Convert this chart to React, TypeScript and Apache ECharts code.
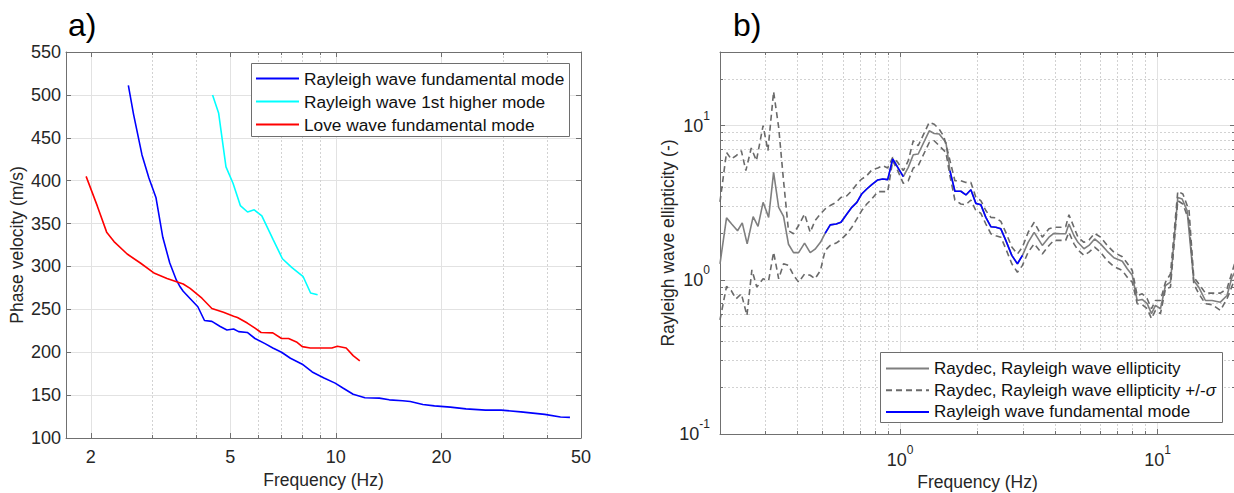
import React, { useEffect, useRef } from 'react';
import * as echarts from 'echarts';

// ---------------- Panel a) : dispersion curves ----------------
const rayleighFundamental: [number, number][] = [
  [2.56, 511], [2.65, 477], [2.8, 430], [2.93, 403], [3.07, 380], [3.21, 334], [3.36, 304],
  [3.51, 284], [3.6, 276], [3.67, 271], [3.85, 262], [4.04, 253], [4.22, 237], [4.43, 236],
  [4.68, 230], [4.89, 226], [5.11, 227], [5.28, 224], [5.59, 223], [5.88, 216], [6.28, 210],
  [6.61, 205], [7.0, 200], [7.42, 193], [8.02, 186], [8.56, 177], [9.25, 170], [9.95, 164],
  [10.5, 158], [11.2, 151], [12.1, 147], [13.3, 146.5], [14.2, 144.5], [15.5, 143.5],
  [16.3, 142.5], [17.7, 139], [19.1, 137.5], [21.2, 136], [23.5, 134], [26.7, 132.5],
  [29.6, 132.5], [33.7, 130.5], [39.4, 127.5], [43.7, 124.5], [46.5, 124],
];
const rayleighHigher: [number, number][] = [
  [4.45, 500], [4.63, 479], [4.86, 416], [5.09, 397], [5.34, 371], [5.6, 363.5], [5.85, 366],
  [6.15, 359], [6.63, 331], [7.04, 309], [7.48, 299], [8.07, 288], [8.47, 269], [8.87, 267],
];
const loveFundamental: [number, number][] = [
  [1.94, 405], [2.09, 370], [2.22, 340], [2.33, 329], [2.54, 314.5], [2.77, 304], [3.04, 292],
  [3.3, 286], [3.67, 279.5], [3.84, 274.5], [4.15, 263], [4.43, 251], [4.78, 246.5], [5.11, 242],
  [5.24, 240.5], [5.59, 234], [5.88, 228], [6.12, 223], [6.61, 222.5], [7.0, 216], [7.33, 216],
  [7.72, 212], [8.02, 206.5], [8.45, 205], [9.74, 205], [10.1, 207], [10.7, 205], [11.2, 196],
  [11.7, 190],
];
const aXMin = 1.7;
const aXMax = 50;
const aXMajorTicks = [2, 5, 10, 20, 50];
const aXMinorTicks = [3, 4, 6, 7, 8, 9, 30, 40];
const aYMin = 100;
const aYMax = 550;
const aYStep = 50;

// ---------------- Panel b) : ellipticity ----------------
const modeSegment1: [number, number][] = [
  [0.512, 2.0], [0.536, 2.27], [0.565, 2.3], [0.59, 2.36], [0.622, 2.67], [0.65, 2.95],
  [0.68, 3.18], [0.71, 3.6], [0.743, 3.88], [0.777, 4.14], [0.82, 4.44], [0.857, 4.5],
  [0.896, 4.46], [0.937, 6.07], [0.98, 5.36], [1.03, 4.66],
];
const modeSegment2: [number, number][] = [
  [1.563, 5.1], [1.634, 3.75], [1.723, 3.75], [1.803, 3.55], [1.885, 3.84], [1.971, 3.13],
  [2.06, 3.07], [2.155, 2.54], [2.253, 2.21], [2.356, 2.19], [2.464, 2.14], [2.576, 1.8],
  [2.718, 1.44], [2.858, 1.27], [2.99, 1.44],
];
const raydecLow: [number, number][] = [
  [0.2, 1.27], [0.212, 2.52], [0.222, 2.3], [0.234, 2.08], [0.244, 2.34], [0.255, 1.71],
  [0.269, 2.57], [0.281, 2.22], [0.294, 3.18], [0.309, 2.54], [0.323, 4.97], [0.338, 2.95],
  [0.353, 2.58], [0.369, 1.7], [0.386, 1.5], [0.404, 1.5], [0.426, 1.73], [0.448, 1.5],
  [0.468, 1.58], [0.491, 1.75],
];
const raydecMid: [number, number][] = [
  [1.077, 5.36], [1.126, 6.47], [1.177, 6.54], [1.299, 9.25], [1.358, 8.89], [1.42, 8.81],
  [1.508, 7.77],
];
const raydecHigh: [number, number][] = [
  [3.145, 1.75], [3.32, 2.03], [3.57, 1.67], [3.79, 1.89], [3.96, 2.0], [4.21, 1.99],
  [4.4, 1.99], [4.53, 2.3], [4.74, 1.93], [4.91, 1.75], [5.18, 1.59], [5.42, 1.67], [5.7, 1.84],
  [6.01, 1.71], [6.38, 1.53], [6.77, 1.39], [7.3, 1.32], [7.63, 1.18], [7.98, 1.07],
  [8.34, 0.734], [8.72, 0.746], [9.12, 0.7], [9.48, 0.603], [9.82, 0.682], [10.27, 0.649],
  [10.74, 0.918], [11.23, 0.965], [11.99, 3.42], [12.47, 3.34], [13.03, 2.81], [13.83, 0.99],
  [14.46, 0.895], [15.35, 0.734], [16.29, 0.734], [17.55, 0.716], [18.62, 0.791],
  [19.48, 1.04], [20, 1.12],
];
const raydecUpper: [number, number][] = [
  [0.2, 3.2], [0.212, 6.7], [0.221, 6.07], [0.231, 6.37], [0.242, 6.87], [0.252, 5.1],
  [0.2645, 7.15], [0.277, 5.92], [0.294, 10.0], [0.307, 6.87], [0.323, 16.6], [0.338, 9.72],
  [0.353, 4.39], [0.369, 2.08], [0.386, 1.99], [0.404, 2.25], [0.426, 2.67], [0.448, 2.03],
  [0.468, 2.42], [0.491, 2.67], [0.512, 2.88], [0.536, 3.03], [0.565, 3.18], [0.59, 3.42],
  [0.622, 3.51], [0.65, 3.78], [0.68, 4.18], [0.71, 4.5], [0.743, 4.73], [0.777, 5.15],
  [0.82, 5.31], [0.857, 5.49], [0.896, 5.31], [0.937, 6.22], [0.98, 5.77], [1.03, 5.1],
  [1.077, 5.92], [1.126, 7.97], [1.177, 7.4], [1.299, 10.5], [1.358, 10.2], [1.42, 9.49],
  [1.48, 8.5], [1.53, 6.87], [1.634, 4.39], [1.723, 4.39], [1.803, 4.28], [1.885, 4.28],
  [1.971, 3.42], [2.06, 3.26], [2.155, 2.81], [2.253, 2.54], [2.356, 2.52], [2.464, 2.39],
  [2.576, 2.03], [2.718, 1.63], [2.858, 1.47], [2.99, 1.63], [3.145, 2.03], [3.32, 2.36],
  [3.57, 1.89], [3.79, 2.14], [3.96, 2.19], [4.21, 2.19], [4.4, 2.21], [4.53, 2.64],
  [4.74, 2.19], [4.91, 1.89], [5.18, 1.75], [5.42, 1.81], [5.7, 2.0], [6.01, 1.89],
  [6.38, 1.67], [6.77, 1.51], [7.3, 1.41], [7.63, 1.28], [7.98, 1.15], [8.34, 0.79],
  [8.72, 0.812], [9.12, 0.753], [9.48, 0.649], [9.82, 0.734], [10.27, 0.734], [10.74, 0.965],
  [11.23, 1.09], [11.99, 3.75], [12.55, 3.6], [13.26, 2.81], [13.83, 1.04], [14.46, 0.942],
  [15.35, 0.82], [16.29, 0.82], [17.55, 0.82], [18.62, 0.874], [19.75, 1.21], [20, 1.3],
];
const raydecLower: [number, number][] = [
  [0.2, 0.55], [0.212, 0.905], [0.221, 0.852], [0.231, 0.753], [0.242, 0.812], [0.2545, 0.587],
  [0.266, 1.16], [0.278, 0.896], [0.294, 1.015], [0.309, 0.99], [0.323, 1.51], [0.338, 1.015],
  [0.353, 1.27], [0.369, 1.24], [0.386, 1.07], [0.404, 0.965], [0.426, 1.09], [0.448, 1.07],
  [0.468, 1.015], [0.491, 1.15], [0.512, 1.55], [0.536, 1.67], [0.565, 1.73], [0.59, 1.82],
  [0.622, 1.99], [0.65, 2.19], [0.68, 2.48], [0.71, 2.81], [0.743, 3.1], [0.777, 3.34],
  [0.82, 3.73], [0.857, 3.73], [0.896, 3.73], [0.937, 5.92], [0.98, 5.1], [1.03, 4.22],
  [1.077, 4.39], [1.126, 5.31], [1.177, 5.49], [1.299, 7.77], [1.358, 7.97], [1.42, 7.4],
  [1.508, 6.7], [1.563, 4.73], [1.634, 3.29], [1.723, 3.1], [1.803, 3.07], [1.885, 3.29],
  [1.971, 2.81], [2.06, 2.7], [2.155, 2.3], [2.253, 1.99], [2.356, 1.93], [2.464, 1.89],
  [2.576, 1.59], [2.718, 1.27], [2.858, 1.12], [2.99, 1.24], [3.145, 1.51], [3.32, 1.71],
  [3.57, 1.47], [3.79, 1.67], [3.96, 1.8], [4.21, 1.8], [4.4, 1.8], [4.53, 2.03], [4.74, 1.71],
  [4.91, 1.56], [5.18, 1.44], [5.42, 1.51], [5.7, 1.63], [6.01, 1.51], [6.38, 1.33],
  [6.77, 1.22], [7.3, 1.15], [7.63, 1.04], [7.98, 0.965], [8.34, 0.7], [8.72, 0.69],
  [9.12, 0.649], [9.48, 0.56], [9.82, 0.633], [10.27, 0.603], [10.74, 0.874], [11.23, 0.895],
  [11.99, 3.26], [12.55, 3.1], [13.26, 2.42], [13.83, 0.942], [14.46, 0.812], [15.35, 0.7],
  [16.29, 0.69], [17.55, 0.633], [18.62, 0.753], [19.75, 0.965], [20, 1.02],
];
const bXMin = 0.2;
const bXMax = 20;
const bXMajorTicks = [1, 10];
const bXMinorTicks = [0.2, 0.3, 0.4, 0.5, 0.6, 0.7, 0.8, 0.9, 2, 3, 4, 5, 6, 7, 8, 9, 20];
const bYMin = 0.1;
const bYMax = 30;
const bYMajorTicks = [0.1, 1, 10];
const bYMinorTicks = [0.2, 0.3, 0.4, 0.5, 0.6, 0.7, 0.8, 0.9, 2, 3, 4, 5, 6, 7, 8, 9, 20, 30];

const NAME_RAYLEIGH = 'Rayleigh wave fundamental mode';
const NAME_HIGHER = 'Rayleigh wave 1st higher mode';
const NAME_LOVE = 'Love wave fundamental mode';
const NAME_RAYDEC = 'Raydec, Rayleigh wave ellipticity';
const NAME_SIGMA = 'Raydec, Rayleigh wave ellipticity +/-σ';

// ---------------- styling ----------------
const FONT = '"Liberation Sans", Arial, Helvetica, sans-serif';
const TEXT = '#262626';
const AXIS = '#707070';
const MAJOR_GRID = '#e2e2e2';
const MINOR_GRID = '#d2d2d2';
const lg = (v: number) => Math.log10(v);

type Side = 'bottom' | 'top' | 'left' | 'right';

function tickAxis(gridIndex: number, position: Side, min: number, max: number, ticks: number[], major: boolean): any {
  return {
    type: 'value',
    gridIndex,
    position,
    min: lg(min),
    max: lg(max),
    silent: true,
    axisLine: { show: major, onZero: false, lineStyle: { color: AXIS, width: 1 } },
    axisTick: {
      show: true,
      inside: true,
      length: major ? 5 : 3,
      customValues: ticks.map(lg),
      lineStyle: { color: AXIS, width: 1 },
    },
    axisLabel: { show: false },
    splitLine: { show: false },
    axisPointer: { show: false },
  };
}

const nameStyle = { fontSize: 17.5, color: TEXT, fontFamily: FONT };
const labelBase = { fontSize: 18, color: TEXT, fontFamily: FONT };
const supRich = {
  b: { fontSize: 18, color: TEXT, fontFamily: FONT },
  s: { fontSize: 12, color: TEXT, fontFamily: FONT, padding: [0, 0, 20, 0] },
};
const powLabel = (v: number) => `{b|10}{s|${Math.round(v)}}`;

function buildOption(): any {
  const xAxis: any[] = [];
  const yAxis: any[] = [];

  // ----- grid 0 (panel a) -----
  xAxis.push({ type: 'log', gridIndex: 0, min: aXMin, max: aXMax, show: false, axisLine: { onZero: false } }); // 0
  xAxis.push({
    ...tickAxis(0, 'bottom', aXMin, aXMax, aXMajorTicks, true), // 1
    name: 'Frequency (Hz)',
    nameLocation: 'middle',
    nameGap: 33,
    nameMoveOverlap: false,
    nameTextStyle: nameStyle,
    axisLabel: {
      show: true,
      customValues: aXMajorTicks.map(lg),
      formatter: (v: number) => String(Math.round(Math.pow(10, v))),
      margin: 10,
      ...labelBase,
    },
    splitLine: { show: true, lineStyle: { color: MAJOR_GRID, width: 1 } },
  });
  xAxis.push({
    ...tickAxis(0, 'bottom', aXMin, aXMax, aXMinorTicks, false), // 2
    splitLine: { show: true, lineStyle: { color: MINOR_GRID, width: 1, type: [2, 2] } },
  });
  xAxis.push(tickAxis(0, 'top', aXMin, aXMax, aXMajorTicks, true)); // 3
  xAxis.push(tickAxis(0, 'top', aXMin, aXMax, aXMinorTicks, false)); // 4

  yAxis.push({
    type: 'value', gridIndex: 0, position: 'left', min: aYMin, max: aYMax, interval: aYStep, // 0
    name: 'Phase velocity (m/s)', nameLocation: 'middle', nameGap: 40, nameMoveOverlap: false,
    nameTextStyle: nameStyle,
    axisLine: { show: true, onZero: false, lineStyle: { color: AXIS, width: 1 } },
    axisTick: { show: true, inside: true, length: 5, lineStyle: { color: AXIS } },
    axisLabel: { show: true, margin: 5, ...labelBase },
    splitLine: { show: true, lineStyle: { color: MAJOR_GRID, width: 1 } },
  });
  yAxis.push({
    type: 'value', gridIndex: 0, position: 'right', min: aYMin, max: aYMax, interval: aYStep, // 1
    axisLine: { show: true, onZero: false, lineStyle: { color: AXIS, width: 1 } },
    axisTick: { show: true, inside: true, length: 5, lineStyle: { color: AXIS } },
    axisLabel: { show: false },
    splitLine: { show: false },
  });

  // ----- grid 1 (panel b) -----
  xAxis.push({ type: 'log', gridIndex: 1, min: bXMin, max: bXMax, show: false, axisLine: { onZero: false } }); // 5
  xAxis.push({
    ...tickAxis(1, 'bottom', bXMin, bXMax, bXMajorTicks, true), // 6
    name: 'Frequency (Hz)',
    nameLocation: 'middle',
    nameGap: 39,
    nameMoveOverlap: false,
    nameTextStyle: nameStyle,
    axisLabel: {
      show: true,
      customValues: bXMajorTicks.map(lg),
      formatter: powLabel,
      margin: 10,
      rich: supRich,
      ...labelBase,
    },
    splitLine: { show: true, lineStyle: { color: MAJOR_GRID, width: 1 } },
  });
  xAxis.push({
    ...tickAxis(1, 'bottom', bXMin, bXMax, bXMinorTicks, false), // 7
    splitLine: { show: true, lineStyle: { color: MINOR_GRID, width: 1, type: [2, 2] } },
  });
  xAxis.push(tickAxis(1, 'top', bXMin, bXMax, bXMajorTicks, true)); // 8
  xAxis.push(tickAxis(1, 'top', bXMin, bXMax, bXMinorTicks, false)); // 9

  yAxis.push({ type: 'log', gridIndex: 1, min: bYMin, max: bYMax, show: false, axisLine: { onZero: false } }); // 2
  yAxis.push({
    ...tickAxis(1, 'left', bYMin, bYMax, bYMajorTicks, true), // 3
    name: 'Rayleigh wave ellipticity (-)',
    nameLocation: 'middle',
    nameGap: 43,
    nameMoveOverlap: false,
    nameTextStyle: nameStyle,
    axisLabel: {
      show: true,
      customValues: bYMajorTicks.map(lg),
      formatter: powLabel,
      margin: 10,
      rich: supRich,
      ...labelBase,
    },
    splitLine: { show: true, lineStyle: { color: MAJOR_GRID, width: 1 } },
  });
  yAxis.push({
    ...tickAxis(1, 'left', bYMin, bYMax, bYMinorTicks, false), // 4
    splitLine: { show: true, lineStyle: { color: MINOR_GRID, width: 1, type: [2, 2] } },
  });
  yAxis.push(tickAxis(1, 'right', bYMin, bYMax, bYMajorTicks, true)); // 5
  yAxis.push(tickAxis(1, 'right', bYMin, bYMax, bYMinorTicks, false)); // 6

  const line = (name: string, data: [number, number][], xi: number, yi: number, color: string, type: any = 'solid', z = 3) => ({
    type: 'line',
    name,
    data,
    xAxisIndex: xi,
    yAxisIndex: yi,
    symbol: 'none',
    showSymbol: false,
    silent: true,
    z,
    lineStyle: { color, width: 1.6, type },
    itemStyle: { color },
    emphasis: { disabled: true },
  });

  const raydecFull: [number, number][] = [
    ...raydecLow, ...modeSegment1, ...raydecMid, ...modeSegment2, ...raydecHigh,
  ];

  const series = [
    line(NAME_RAYLEIGH, rayleighFundamental, 0, 0, '#0000ff'),
    line(NAME_HIGHER, rayleighHigher, 0, 0, '#00ffff'),
    line(NAME_LOVE, loveFundamental, 0, 0, '#ff0000'),
    line(NAME_RAYDEC, raydecFull, 5, 2, '#7f7f7f', 'solid', 3),
    line(NAME_SIGMA, raydecUpper, 5, 2, '#6a6a6a', [6, 4], 3),
    line(NAME_SIGMA, raydecLower, 5, 2, '#6a6a6a', [6, 4], 3),
    line(NAME_RAYLEIGH, modeSegment1, 5, 2, '#0000ff', 'solid', 4),
    line(NAME_RAYLEIGH, modeSegment2, 5, 2, '#0000ff', 'solid', 4),
  ];

  const legendTextA = { fontSize: 17.3, color: '#111111', fontFamily: FONT };
  const legendTextB = { fontSize: 17, color: '#111111', fontFamily: FONT };
  const legendBase = {
    orient: 'vertical',
    selectedMode: false,
    backgroundColor: 'transparent',
    borderWidth: 0,
    itemWidth: 43,
    itemHeight: 14,
    itemStyle: { opacity: 0 },
    z: 10,
  };

  return {
    animation: false,
    backgroundColor: '#ffffff',
    textStyle: { fontFamily: FONT },
    grid: [
      { left: 66, top: 52, width: 515, height: 386, outerBoundsMode: 'none', containLabel: false },
      { left: 720, top: 52, width: 515, height: 382, outerBoundsMode: 'none', containLabel: false },
    ],
    xAxis,
    yAxis,
    legend: [
      {
        ...legendBase,
        left: 251,
        top: 63,
        itemGap: 6,
        padding: [7, 5, 3, 4],
        textStyle: legendTextA,
        data: [NAME_RAYLEIGH, NAME_HIGHER, NAME_LOVE],
      },
      {
        ...legendBase,
        left: 880,
        top: 353,
        itemGap: 4.7,
        padding: [7, 4, 2, 5],
        data: [NAME_RAYDEC, NAME_SIGMA, NAME_RAYLEIGH],
        formatter: (name: string) => name.replace('σ', '{i|σ}'),
        textStyle: {
          ...legendTextB,
          rich: { i: { ...legendTextB, fontStyle: 'italic' } },
        },
      },
    ],
    graphic: [
      { type: 'text', left: 68, top: 9, style: { text: 'a)', font: `32px ${FONT}`, fill: '#000000' } },
      { type: 'text', left: 733, top: 9, style: { text: 'b)', font: `32px ${FONT}`, fill: '#000000' } },
      {
        type: 'rect', z: 8, silent: true,
        shape: { x: 251.5, y: 63.5, width: 318, height: 73 },
        style: { fill: '#ffffff', stroke: '#6e6e6e', lineWidth: 1 },
      },
      {
        type: 'rect', z: 8, silent: true,
        shape: { x: 880.5, y: 352.5, width: 342, height: 70 },
        style: { fill: '#ffffff', stroke: '#6e6e6e', lineWidth: 1 },
      },
    ],
    series,
  };
}

export default function App() {
  const ref = useRef<HTMLDivElement>(null);
  useEffect(() => {
    if (!ref.current) return;
    const chart = echarts.init(ref.current, undefined, { renderer: 'svg' });
    chart.setOption(buildOption());
    return () => {
      chart.dispose();
    };
  }, []);
  return (
    <div
      ref={ref}
      style={{ position: 'absolute', left: 0, top: 0, width: 1234, height: 493, background: '#ffffff' }}
    />
  );
}
